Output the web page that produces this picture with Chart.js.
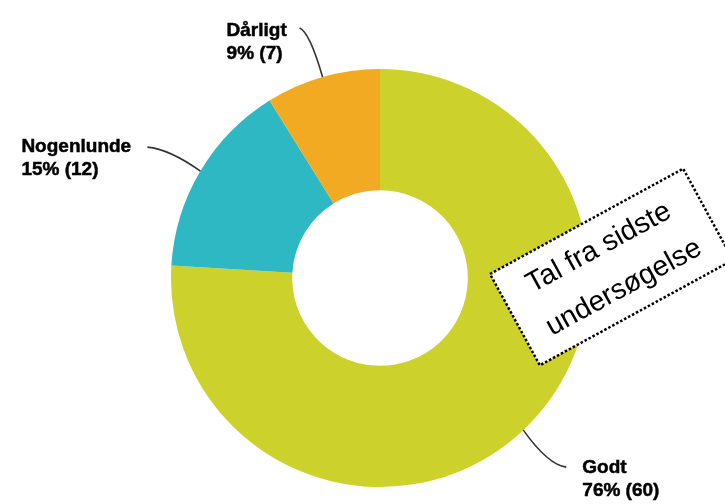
<!DOCTYPE html>
<html>
<head>
<meta charset="utf-8">
<script src="https://cdn.jsdelivr.net/npm/chart.js@4/dist/chart.umd.min.js"></script>
<style>
html,body{margin:0;padding:0;background:#fff;}
#wrap{position:relative;width:725px;height:504px;}
</style>
</head>
<body>
<div id="wrap"><canvas id="c" width="725" height="504"></canvas></div>
<script>
// ---- data ----
const categories = ['Godt', 'Nogenlunde', 'Dårligt'];
const counts = [60, 12, 7];
const percentLabels = ['76%', '15%', '9%'];
const noteLines = ['Tal fra sidste', 'undersøgelse'];

// ---- styles ----
const colors = ['#CCD22B', '#2EB8C3', '#F2AA22'];
// label placement relative to the arc anchor point (style only)
const labelLayout = {
  'Godt':       {ctrl: [25, 35],  end: [43, 37],  text: [59, 43]},
  'Nogenlunde': {ctrl: [-31, -22], end: [-53, -24], text: [-179, -19]},
  'Dårligt':    {ctrl: [-13, -45], end: [-23, -49], text: [-96, -41]}
};

const labelPlugin = {
  id: 'labels',
  afterDraw(chart) {
    const ctx = chart.ctx;
    const meta = chart.getDatasetMeta(0);
    ctx.save();
    meta.data.forEach((arc, i) => {
      const p = arc.getProps(['x', 'y', 'startAngle', 'endAngle', 'outerRadius'], true);
      const mid = (p.startAngle + p.endAngle) / 2;
      const ax = p.x + Math.cos(mid) * p.outerRadius;
      const ay = p.y + Math.sin(mid) * p.outerRadius;
      const L = labelLayout[categories[i]];
      ctx.beginPath();
      ctx.strokeStyle = '#333';
      ctx.lineWidth = 1.6;
      ctx.moveTo(ax, ay);
      ctx.quadraticCurveTo(ax + L.ctrl[0], ay + L.ctrl[1], ax + L.end[0], ay + L.end[1]);
      ctx.stroke();
      ctx.fillStyle = '#000';
      ctx.strokeStyle = '#000';
      ctx.lineWidth = 0.5;
      ctx.font = 'bold 19px "Liberation Sans", Arial, sans-serif';
      ctx.textAlign = 'left';
      ctx.textBaseline = 'alphabetic';
      const tx = ax + L.text[0], ty = ay + L.text[1];
      const l2 = percentLabels[i] + ' (' + counts[i] + ')';
      ctx.fillText(categories[i], tx, ty);
      ctx.strokeText(categories[i], tx, ty);
      ctx.fillText(l2, tx, ty + 23);
      ctx.strokeText(l2, tx, ty + 23);
    });
    // annotation box
    ctx.translate(611.5, 267);
    ctx.rotate(-28.6 * Math.PI / 180);
    ctx.fillStyle = '#fff';
    ctx.fillRect(-110, -52, 220, 104);
    ctx.setLineDash([2.5, 2]);
    ctx.lineWidth = 2.5;
    ctx.strokeStyle = '#000';
    ctx.strokeRect(-110, -52, 220, 104);
    ctx.setLineDash([]);
    ctx.fillStyle = '#000';
    ctx.font = '28.5px "Liberation Sans", Arial, sans-serif';
    ctx.textAlign = 'center';
    ctx.textBaseline = 'alphabetic';
    ctx.fillText(noteLines[0], -2, -15);
    ctx.fillText(noteLines[1], 1, 32);
    ctx.restore();
  }
};

new Chart(document.getElementById('c'), {
  type: 'doughnut',
  data: {
    labels: categories,
    datasets: [{
      data: counts,
      backgroundColor: colors,
      borderWidth: 0,
      hoverOffset: 0
    }]
  },
  options: {
    responsive: false,
    animation: false,
    cutout: '42%',
    layout: {padding: {left: 171, right: 136, top: 69, bottom: 17}},
    plugins: {legend: {display: false}, tooltip: {enabled: false}}
  },
  plugins: [labelPlugin]
});
</script>
</body>
</html>
